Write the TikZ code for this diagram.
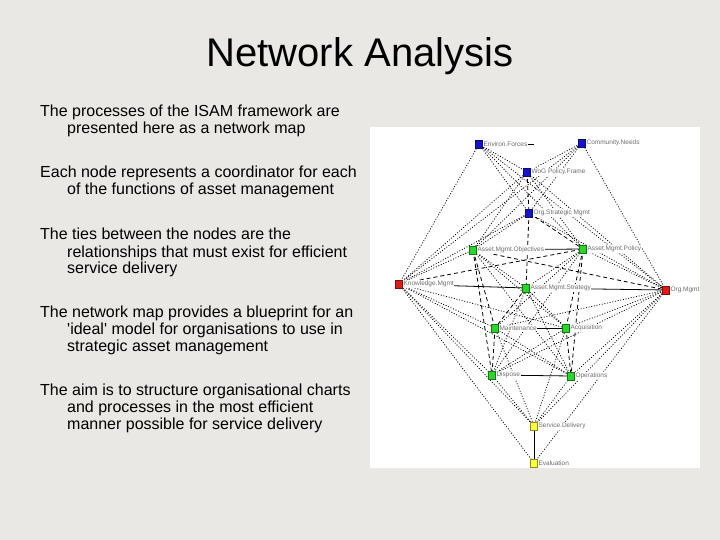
\documentclass[tikz,border=0pt]{standalone}
\usepackage{fontspec}
\setmainfont{Liberation Sans}
\pgfdeclarelayer{panel}
\pgfdeclarelayer{edges}
\pgfsetlayers{panel,edges,main}
\definecolor{pagebg}{RGB}{233,232,229}
\definecolor{nblue}{RGB}{20,20,205}
\definecolor{ngreen}{RGB}{40,215,40}
\definecolor{nred}{RGB}{225,25,25}
\definecolor{nyellow}{RGB}{255,255,60}
\definecolor{labgray}{RGB}{110,110,110}
\begin{document}
\begin{tikzpicture}[x=1pt,y=-1pt,
  body/.style={anchor=base west,inner sep=0pt,font=\fontsize{16}{16}\selectfont},
  sq/.style={minimum width=7pt,minimum height=8pt,inner sep=0pt,fill=#1,draw=#1!55!black,line width=0.5pt},
  lab/.style={anchor=west,inner sep=0.6pt,fill=white,text=labgray,font=\fontsize{6.5}{6.5}\selectfont},
  dotl/.style={line width=0.75pt,dash pattern=on 1pt off 1.7pt},
  dashl/.style={line width=0.8pt,dash pattern=on 4pt off 3pt},
  solidl/.style={line width=0.8pt}]
\useasboundingbox (0,0) rectangle (720,540);
\begin{pgfonlayer}{panel}
\fill[pagebg] (0,0) rectangle (720,540);
\fill[white] (370,127) rectangle (700,468);
\end{pgfonlayer}
\node[anchor=base,inner sep=0pt,font=\fontsize{40}{40}\selectfont] (title) at (360,67) {Network Analysis};
% body text
\node[body] (p1a) at (40,117) {The processes of the ISAM framework are};
\node[body] (p1b) at (67,134) {presented here as a network map};
\node[body] (p2a) at (40,178) {Each node represents a coordinator for each};
\node[body] (p2b) at (67,195) {of the functions of asset management};
\node[body] (p3a) at (40,240) {The ties between the nodes are the};
\node[body] (p3b) at (67,257) {relationships that must exist for efficient};
\node[body] (p3c) at (67,273.5) {service delivery};
\node[body] (p4a) at (40,317.5) {The network map provides a blueprint for an};
\node[body] (p4b) at (67,334.3) {\textquotesingle ideal\textquotesingle\ model for organisations to use in};
\node[body] (p4c) at (67,351) {strategic asset management};
\node[body] (p5a) at (40,395.5) {The aim is to structure organisational charts};
\node[body] (p5b) at (67,412.5) {and processes in the most efficient};
\node[body] (p5c) at (67,429.3) {manner possible for service delivery};
% nodes
\node[sq=nblue] (EF) at (479,144) {};
\node[sq=nblue] (CN) at (582,143) {};
\node[sq=nblue] (WoG) at (527,172) {};
\node[sq=nblue] (OSM) at (529,213) {};
\node[sq=ngreen] (AMO) at (473,250) {};
\node[sq=ngreen] (AMP) at (583,249) {};
\node[sq=nred] (KM) at (399,284) {};
\node[sq=ngreen] (AMS) at (526,288) {};
\node[sq=nred] (OM) at (666,290) {};
\node[sq=ngreen] (MA) at (495,328) {};
\node[sq=ngreen] (AC) at (566,328) {};
\node[sq=ngreen] (DI) at (492,375) {};
\node[sq=ngreen] (OP) at (571,376) {};
\node[sq=nyellow] (SD) at (534,426) {};
\node[sq=nyellow] (EV) at (534,463) {};
% labels
\node[lab] (lEF) at (EF.east) {Environ.Forces};
\node[lab] (lCN) at (CN.east) {Community.Needs};
\node[lab] (lWoG) at (WoG.east) {WoG Policy.Frame};
\node[lab] (lOSM) at (OSM.east) {Org.Strategic Mgmt};
\node[lab] (lAMO) at (AMO.east) {Asset.Mgmt.Objectives};
\node[lab] (lAMP) at (AMP.east) {Asset.Mgmt.Policy};
\node[lab] (lKM) at (KM.east) {Knowledge.Mgmt};
\node[lab] (lAMS) at (AMS.east) {Asset.Mgmt.Strategy};
\node[lab] (lOM) at (OM.east) {Org.Mgmt};
\node[lab] (lMA) at (MA.east) {Maintenance};
\node[lab] (lAC) at (AC.east) {Acquisition};
\node[lab] (lDI) at (DI.east) {Dispose};
\node[lab] (lOP) at (OP.east) {Operations};
\node[lab] (lSD) at (SD.east) {Service.Delivery};
\node[lab] (lEV) at (EV.east) {Evaluation};
\coordinate (EFt) at ([xshift=6pt]lEF.east);
\begin{pgfonlayer}{edges}
\begin{scope}
\clip (370,127) rectangle (700,468);
% solid ties
\draw[solidl] (lEF.east) -- (EFt);
\draw[solidl] (KM.center) -- (AMS.center);
\draw[solidl] (AMS.center) -- (OM.center);
\draw[solidl] (AMO.center) -- (AMP.center);
\draw[solidl] (MA.center) -- (AC.center);
\draw[solidl] (DI.center) -- (OP.center);
\draw[solidl] (SD.center) -- (EV.center);
% dashed ties
\foreach \a/\b in {WoG/OSM,OSM/AMS,AMO/MA,AMO/DI,AMP/AC,AMP/OP,MA/DI,AC/OP,KM/AMP,AMO/OM,OSM/AMP,AMS/MA}
  \draw[dashl] (\a.center) -- (\b.center);
% dotted ties
\foreach \a/\b in {EF/WoG,EF/OSM,EF/KM,EF/AMP,EF/OM,CN/WoG,CN/OSM,CN/AMO,CN/KM,CN/OM,
  WoG/KM,WoG/AMO,WoG/AMP,WoG/OM,OSM/AMO,OSM/KM,OSM/OM,KM/AMO,KM/MA,KM/AC,KM/DI,KM/OP,
  KM/SD,KM/EV,OM/AMP,OM/MA,OM/AC,OM/DI,OM/OP,OM/SD,OM/EV,AMO/AC,AMO/OP,AMO/AMS,AMP/MA,AMP/DI,
  AMP/AMS,MA/OP,AC/DI,MA/SD,DI/SD,OP/SD,AC/SD,AMS/AC,AMS/DI,AMS/OP}
  \draw[dotl] (\a.center) -- (\b.center);
\end{scope}
\end{pgfonlayer}
\end{tikzpicture}
\end{document}
